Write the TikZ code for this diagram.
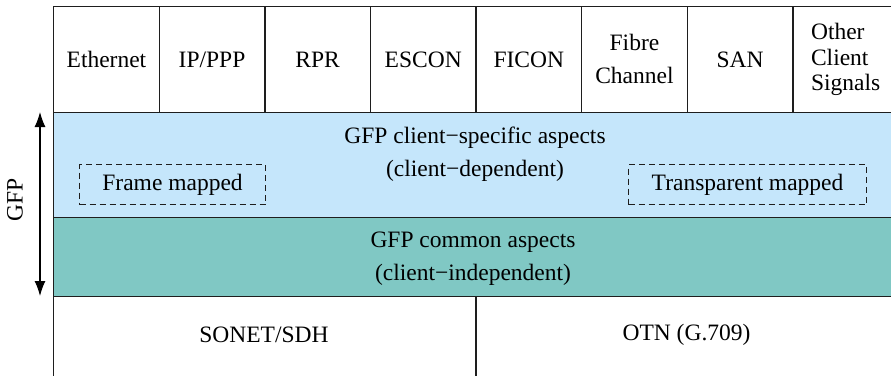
\documentclass[tikz,border=0pt]{standalone}
\usepackage{fontspec}
\setmainfont{Liberation Serif}
\usetikzlibrary{arrows.meta}
\definecolor{lblue}{RGB}{197,230,251}
\definecolor{teal2}{RGB}{128,200,196}
\definecolor{lineg}{RGB}{30,30,30}
\tikzset{
  cell/.style={draw=lineg, line width=1.3pt, minimum width=105.6pt, minimum height=105.5pt, inner sep=0pt, anchor=north west, font=\fontsize{23.5}{33}\selectfont, align=center},
  layer/.style={draw=lineg, line width=1.3pt, inner sep=0pt, anchor=north west, font=\fontsize{23.5}{33}\selectfont, align=center},
  dbox/.style={draw=lineg, line width=1.1pt, dash pattern=on 6pt off 4pt, inner sep=0pt, anchor=north west, font=\fontsize{23.5}{33}\selectfont},
  txt/.style={font=\fontsize{23.5}{33}\selectfont, align=center, inner sep=0pt}
}
\begin{document}
\begin{tikzpicture}[x=1pt,y=-1pt]
\useasboundingbox (0,0) rectangle (891,375);
% top row
\node[cell] (eth) at (53,6) {Ethernet};
\node[cell] (ip) at (158.6,6) {IP/PPP};
\node[cell] (rpr) at (264.2,6) {RPR};
\node[cell] (escon) at (369.8,6) {ESCON};
\node[cell] (ficon) at (475.4,6) {FICON};
\node[cell] (fc) at (581,6) {Fibre\\Channel};
\node[cell] (san) at (686.6,6) {SAN};
\node[cell, font=\fontsize{23.5}{25.5}\selectfont, align=left] (other) at (792.2,6) {Other\\Client\\Signals};
% layers
\node[layer, fill=lblue, minimum width=860pt, minimum height=105.5pt] (spec) at (53,111.5) {};
\node[layer, fill=teal2, minimum width=860pt, minimum height=79pt] (common) at (53,217) {};
\node[layer, minimum width=422.4pt, minimum height=90pt] (sonet) at (53,296) {};
\node[layer, minimum width=440pt, minimum height=90pt] (otn) at (475.4,296) {};
% texts
\node[txt] (spect) at (475,154) {GFP client\textminus specific aspects\\(client\textminus dependent)};
\node[txt] (commt) at (473,259) {GFP common aspects\\(client\textminus independent)};
\node[txt] (sonett) at (264,335) {SONET/SDH};
\node[txt] (otnt) at (686.5,335) {OTN (G.709)};
% dashed boxes
\node[dbox, minimum width=186pt, minimum height=40pt] (frame) at (79,164) {Frame mapped};
\node[dbox, minimum width=238pt, minimum height=40pt] (transp) at (628,164) {Transparent mapped};
% GFP arrow
\coordinate (atop) at (40,112);
\coordinate (abot) at (40,296);
\draw[line width=1.2pt, {Latex[length=15pt,width=11pt]}-{Latex[length=15pt,width=11pt]}] (atop) -- (abot);
\node[txt, rotate=90] (gfp) at (15,200) {GFP};
\end{tikzpicture}
\end{document}
